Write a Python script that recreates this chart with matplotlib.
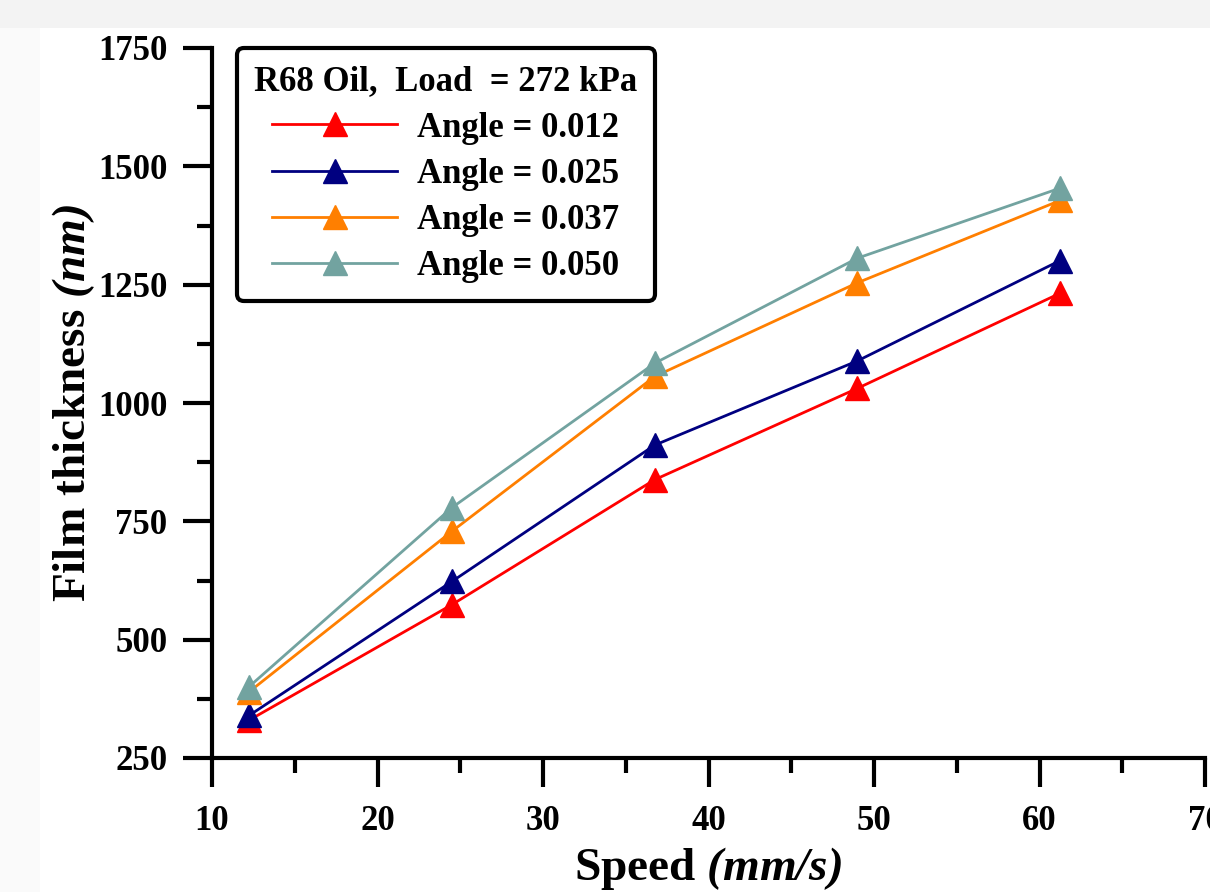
import matplotlib
matplotlib.use("Agg")
import matplotlib.pyplot as plt
from matplotlib.patches import Rectangle
from matplotlib.ticker import MultipleLocator

speed = [12.25, 24.5, 36.75, 49.0, 61.25]
angle_labels = ["Angle = 0.012", "Angle = 0.025", "Angle = 0.037", "Angle = 0.050"]
thick_012 = [330, 574, 838, 1031, 1232]
thick_025 = [340, 623, 911, 1089, 1301]
thick_037 = [390, 729, 1056, 1254, 1428]
thick_050 = [401, 779, 1084, 1306, 1454]
series = [thick_012, thick_025, thick_037, thick_050]
colors = ["#ff0000", "#000080", "#ff7f00", "#72a3a0"]
legend_title = "R68 Oil,  Load  = 272 kPa"

plt.rcParams['font.family'] = ['Liberation Serif', 'DejaVu Serif']
plt.rcParams['font.weight'] = 'bold'
plt.rcParams['mathtext.fontset'] = 'custom'
plt.rcParams['mathtext.it'] = 'Liberation Serif:italic:bold'
plt.rcParams['mathtext.rm'] = 'Liberation Serif:italic:bold'

W, H = 1210, 892
fig = plt.figure(figsize=(W / 100, H / 100), dpi=100)
fig.patches.append(Rectangle((0, 1 - 28 / H), 1, 28 / H, transform=fig.transFigure,
                             facecolor="#f3f3f3", edgecolor="none", zorder=-10))
fig.patches.append(Rectangle((0, 0), 40 / W, 1 - 28 / H, transform=fig.transFigure,
                             facecolor="#fafafa", edgecolor="none", zorder=-10))

left, right, bottom, top = 212 / W, 1205 / W, 1 - 758 / H, 1 - 48 / H
ax = fig.add_axes([left, bottom, right - left, top - bottom])
ax.patch.set_alpha(0)

for ys, c, lab in zip(series, colors, angle_labels):
    ax.plot(speed, ys, color=c, lw=2.0, marker="^", ms=17, mec=c, mfc=c, label=lab,
            clip_on=False)

ax.set_xlim(10, 70)
ax.set_ylim(250, 1750)
ax.xaxis.set_major_locator(MultipleLocator(10))
ax.xaxis.set_minor_locator(MultipleLocator(5))
ax.yaxis.set_major_locator(MultipleLocator(250))
ax.yaxis.set_minor_locator(MultipleLocator(125))

for s in ["top", "right"]:
    ax.spines[s].set_visible(False)
for s in ["left", "bottom"]:
    ax.spines[s].set_linewidth(3)

ax.tick_params(which="major", direction="out", length=21, width=3, labelsize=25, pad=11)
ax.tick_params(which="minor", direction="out", length=11, width=3)
ax.tick_params(axis="x", which="major", pad=13)
for t in ax.get_xticklabels() + ax.get_yticklabels():
    t.set_fontweight("bold")

ax.set_xlabel("Speed $(mm/s)$", fontsize=34, fontweight="bold", labelpad=5)
ax.set_ylabel("Film thickness $(nm)$", fontsize=34, fontweight="bold", labelpad=1)

leg = ax.legend(title=legend_title, loc="upper left", bbox_to_anchor=(25 / (1205 - 212), 1.0),
                fontsize=25, title_fontproperties={"size": 25, "weight": "bold"},
                handlelength=3.6, handletextpad=0.58, labelspacing=0.38,
                frameon=True, fancybox=True, borderpad=0.5, borderaxespad=0)
leg.get_frame().set_edgecolor("black")
leg.get_frame().set_linewidth(3)
leg.get_frame().set_alpha(1)
for t in leg.get_texts():
    t.set_fontweight("bold")

fig.savefig("out.png", dpi=100)
